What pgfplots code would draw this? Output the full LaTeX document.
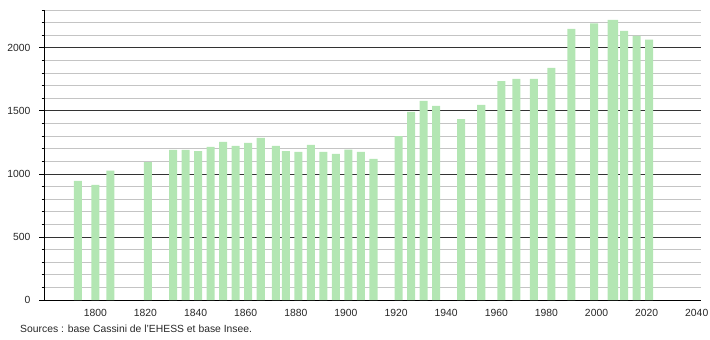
\documentclass[border=0pt]{standalone}
\usepackage{pgfplots}
\pgfplotsset{compat=1.18}
\usepackage{fontspec}
\setmainfont{Liberation Sans}
\definecolor{barcol}{HTML}{B3E6B3}
\definecolor{majgrid}{HTML}{333333}
\definecolor{mingrid}{HTML}{C4C4C4}
\begin{document}
\begin{tikzpicture}
\begin{axis}[
  name=ax,
  scale only axis,
  width=657bp, height=290bp,
  xmin=1779.5, xmax=2041.7,
  ymin=0, ymax=2300,
  axis lines*=left,
  axis line style={black, line width=0.8bp},
  ytick={0,500,1000,1500,2000},
  minor ytick={100,200,300,400,600,700,800,900,1100,1200,1300,1400,1600,1700,1800,1900,2100,2200,2300},
  xtick={1800,1820,...,2040},
  ymajorgrids, yminorgrids,
  major grid style={majgrid, line width=0.8bp},
  minor grid style={mingrid, line width=0.8bp},
  major tick length=5bp,
  minor tick length=2.5bp,
  tick align=outside,
  xtick style={draw=none},
  ytick style={black, line width=0.8bp},
  tick label style={font=\fontsize{10.4}{12}\selectfont, text=black!85},
  yticklabel style={xshift=-5bp},
  xticklabel style={yshift=-1bp},
  /pgf/number format/1000 sep={},
  /pgf/number format/assume math mode=true,
  ybar, bar width=3.2,
  clip=false,
]
\addplot[fill=barcol, draw=none] coordinates {
(1793,945) (1800,913) (1806,1026) (1821,1093) (1831,1190) (1836,1190)
(1841,1180) (1846,1214) (1851,1254) (1856,1222) (1861,1246) (1866,1286)
(1872,1222) (1876,1181) (1881,1175) (1886,1230) (1891,1175) (1896,1159)
(1901,1193) (1906,1175) (1911,1119) (1921,1300) (1926,1492) (1931,1580)
(1936,1540) (1946,1434) (1954,1548) (1962,1735) (1968,1754) (1975,1754)
(1982,1841) (1990,2150) (1999,2193) (2006,2222) (2007,2222) (2011,2135)
(2016,2095) (2021,2066)
};
\end{axis}
\node[anchor=west, inner sep=0pt, font=\fontsize{10.4}{12}\selectfont, text=black!85]
  at ([shift={(-24bp,-29bp)}]ax.south west) {Sources : base Cassini de l'EHESS et base Insee.};
\pgfresetboundingbox
\path ([shift={(-44bp,-40bp)}]ax.south west) rectangle ([shift={(9bp,10bp)}]ax.north east);
\end{tikzpicture}
\end{document}
